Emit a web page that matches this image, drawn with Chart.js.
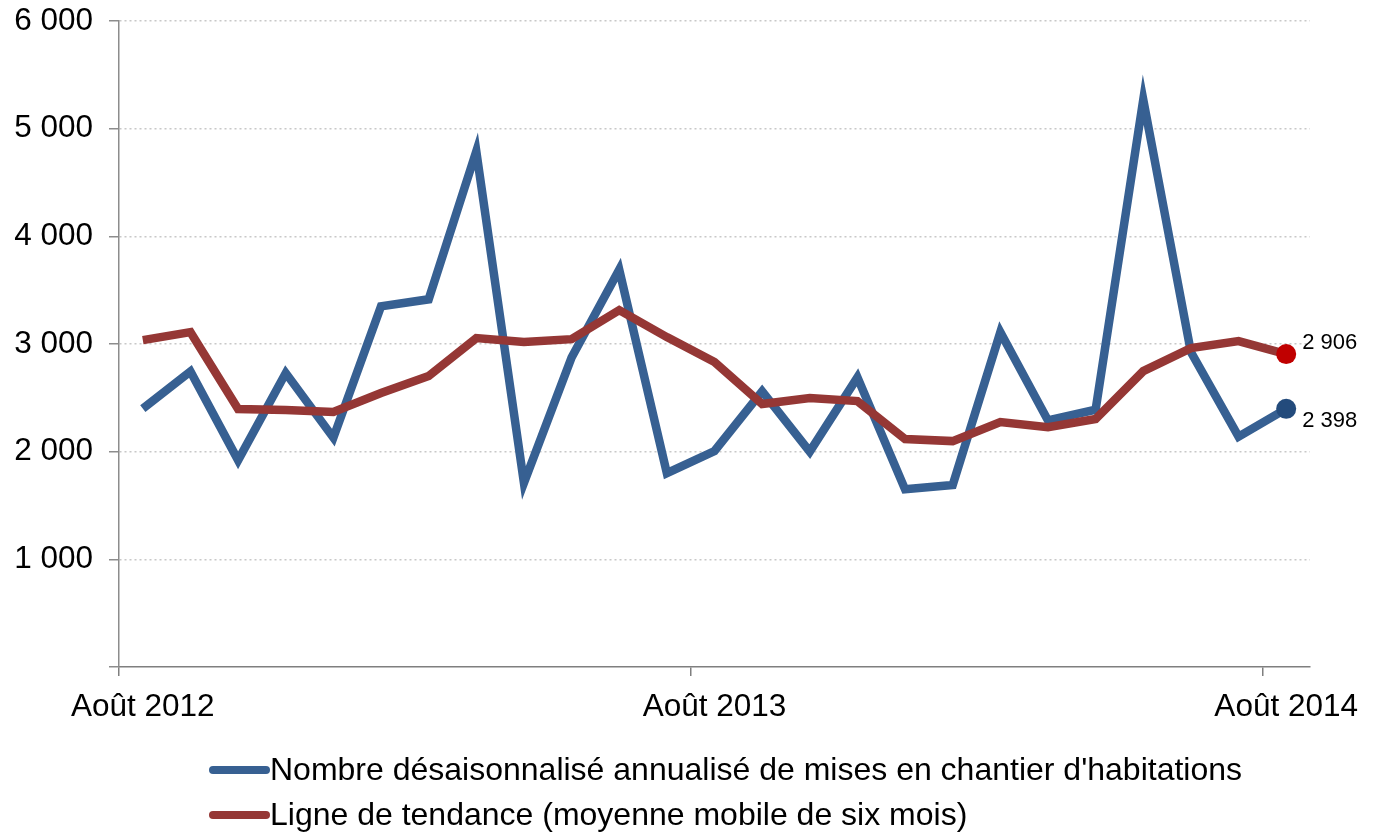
<!DOCTYPE html>
<html>
<head>
<meta charset="utf-8">
<script src="https://cdn.jsdelivr.net/npm/chart.js@4"></script>
<style>
  html, body { margin: 0; padding: 0; background: #ffffff; }
  #wrap { width: 1377px; height: 833px; position: relative; }
</style>
</head>
<body>
<div id="wrap"><canvas id="chart"></canvas></div>
<script>
const months = [
  "Août 2012", "Sept. 2012", "Oct. 2012", "Nov. 2012", "Déc. 2012",
  "Janv. 2013", "Févr. 2013", "Mars 2013", "Avr. 2013", "Mai 2013",
  "Juin 2013", "Juil. 2013", "Août 2013", "Sept. 2013", "Oct. 2013",
  "Nov. 2013", "Déc. 2013", "Janv. 2014", "Févr. 2014", "Mars 2014",
  "Avr. 2014", "Mai 2014", "Juin 2014", "Juil. 2014", "Août 2014"
];
const shown_months = ["Août 2012", "Août 2013", "Août 2014"];

const starts = [
  2400, 2745, 1920, 2730, 2130, 3350, 3415, 4790, 1710, 2875,
  3690, 1800, 2006, 2560, 2000, 2690, 1650, 1690, 3110, 2290,
  2390, 5270, 2925, 2140, 2398
];
const trend = [
  3036, 3110, 2396, 2386, 2368, 2544, 2702, 3055, 3018, 3045,
  3315, 3064, 2832, 2442, 2498, 2470, 2117, 2098, 2275, 2228,
  2303, 2748, 2962, 3027, 2906
];

const series_labels = [
  "Nombre désaisonnalisé annualisé de mises en chantier d'habitations",
  "Ligne de tendance (moyenne mobile de six mois)"
];
const blue = "#376092";
const red = "#953735";
const font_name = "'Liberation Sans', Arial, sans-serif";
const last = months.length - 1;

function fmt(v) {
  return String(v).replace(/\B(?=(\d{3})+(?!\d))/g, " ");
}

const end_labels = {
  id: "end_labels",
  afterDatasetsDraw(chart) {
    const ctx = chart.ctx;
    ctx.save();
    ctx.font = "22px " + font_name;
    ctx.fillStyle = "#000000";
    ctx.textAlign = "left";
    ctx.textBaseline = "middle";
    const p_red = chart.getDatasetMeta(1).data[last];
    const p_blue = chart.getDatasetMeta(0).data[last];
    ctx.fillText(fmt(trend[last]), p_red.x + 16, p_red.y - 11);
    ctx.fillText(fmt(starts[last]), p_blue.x + 16, p_blue.y + 12);
    ctx.restore();
  }
};

const side_legend = {
  id: "side_legend",
  afterDraw(chart) {
    const ctx = chart.ctx;
    const colors = [blue, red];
    ctx.save();
    ctx.font = "32px " + font_name;
    ctx.textBaseline = "middle";
    ctx.fillStyle = "#000000";
    series_labels.forEach((txt, i) => {
      const y = chart.height - 63 + i * 45;
      ctx.strokeStyle = colors[i];
      ctx.lineWidth = 8;
      ctx.lineCap = "round";
      ctx.beginPath();
      ctx.moveTo(213, y);
      ctx.lineTo(266, y);
      ctx.stroke();
      ctx.fillText(txt, 270, y + 1);
    });
    ctx.restore();
  }
};

const data = {
  labels: months,
  datasets: [
    {
      label: series_labels[0],
      data: starts,
      borderColor: blue,
      backgroundColor: "#234b7c",
      borderWidth: 8.5,
      pointRadius: months.map((m, i) => (i === last ? 10 : 0)),
      pointBorderWidth: 0,
      pointHoverRadius: 0,
      tension: 0,
      order: 1,
    },
    {
      label: series_labels[1],
      data: trend,
      borderColor: red,
      backgroundColor: "#c00000",
      borderWidth: 8.5,
      pointRadius: months.map((m, i) => (i === last ? 10 : 0)),
      pointBorderWidth: 0,
      pointHoverRadius: 0,
      tension: 0,
      order: 0,
    },
  ],
};

const config = {
  type: "line",
  data: data,
  options: {
    animation: { duration: 0 },
    responsive: true,
    maintainAspectRatio: false,
    layout: {
      padding: { left: 0, right: 67, top: 21, bottom: 106 },
    },
    plugins: {
      legend: { display: false },
      tooltip: { enabled: false },
    },
    scales: {
      x: {
        offset: true,
        afterFit: (scale) => { scale.height = 60; },
        border: { display: true, color: "#7f7f7f", width: 1.5 },
        grid: {
          offset: true,
          drawOnChartArea: false,
          drawTicks: true,
          tickLength: 9,
          color: (c) => (c.index === 0 || c.index === 12 || c.index === 24 ? "#7f7f7f" : "rgba(0,0,0,0)"),
          lineWidth: 1.5,
        },
        ticks: {
          autoSkip: false,
          maxRotation: 0,
          padding: 12,
          color: "#000000",
          font: { family: font_name, size: 31.5 },
          callback: function (value, index) {
            const lab = this.getLabelForValue(value);
            return shown_months.includes(lab) && (index === 0 || index === 12 || index === 24) ? lab : "";
          },
        },
      },
      y: {
        min: 0,
        max: 6000,
        afterFit: (scale) => {
          scale.width = 119;
          scale.paddingTop = 0;
          scale.paddingBottom = 0;
        },
        border: { display: true, color: "#8c8c8c", width: 1.5, dash: [2, 3] },
        grid: {
          color: (c) => (c.tick && c.tick.value === 0 ? "rgba(0,0,0,0)" : "#c8c8c8"),
          tickColor: "#8c8c8c",
          lineWidth: 1.5,
          tickBorderDash: [],
          tickLength: 10,
        },
        ticks: {
          stepSize: 1000,
          padding: 16,
          color: "#000000",
          font: { family: font_name, size: 31.5 },
          callback: (v) => (v === 0 ? "" : fmt(v)),
        },
      },
    },
  },
  plugins: [end_labels, side_legend],
};

const ctx = document.getElementById("chart");
new Chart(ctx, config);
</script>
</body>
</html>
